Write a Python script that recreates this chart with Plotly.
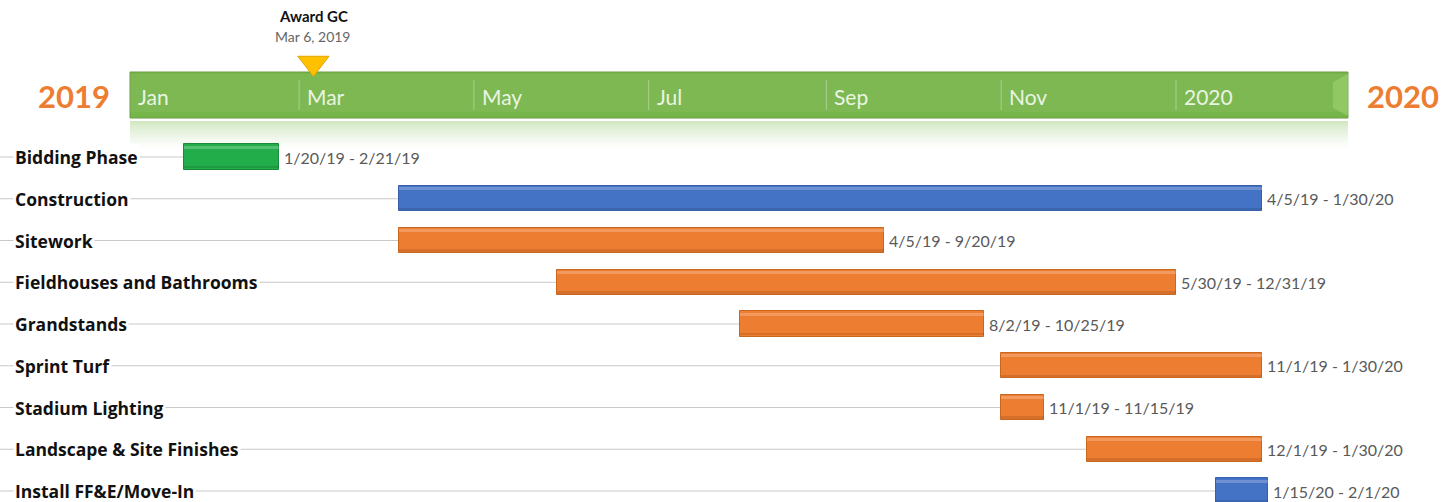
import plotly.graph_objects as go
import pandas as pd

# ---------------- data ----------------
tasks = ["Bidding Phase", "Construction", "Sitework", "Fieldhouses and Bathrooms",
         "Grandstands", "Sprint Turf", "Stadium Lighting",
         "Landscape & Site Finishes", "Install FF&E/Move-In"]
starts = ["2019-01-20", "2019-04-05", "2019-04-05", "2019-05-30", "2019-08-02",
          "2019-11-01", "2019-11-01", "2019-12-01", "2020-01-15"]
ends = ["2019-02-21", "2020-01-30", "2019-09-20", "2019-12-31", "2019-10-25",
        "2020-01-30", "2019-11-15", "2020-01-30", "2020-02-01"]
date_labels = ["1/20/19 - 2/21/19", "4/5/19 - 1/30/20", "4/5/19 - 9/20/19",
               "5/30/19 - 12/31/19", "8/2/19 - 10/25/19", "11/1/19 - 1/30/20",
               "11/1/19 - 11/15/19", "12/1/19 - 1/30/20", "1/15/20 - 2/1/20"]
task_groups = ["green", "blue", "orange", "orange", "orange", "orange", "orange", "orange", "blue"]

month_ticks = ["2019-01-01", "2019-03-01", "2019-05-01", "2019-07-01",
               "2019-09-01", "2019-11-01", "2020-01-01"]
month_labels = ["Jan", "Mar", "May", "Jul", "Sep", "Nov", "2020"]

timeline_start = "2019-01-01"
timeline_end = "2020-03-01"
start_year_label = "2019"
end_year_label = "2020"

milestone_date = "2019-03-06"
milestone_name = "Award GC"
milestone_label = "Mar 6, 2019"

# ---------------- styles / layout ----------------
W, H = 1443, 502
FONT = "Lato"
LABEL_FONT = "Open Sans"
fill = {"green": "#22ad4a", "blue": "#4472c4", "orange": "#ed7d31"}
edge = {"green": "#1a8a38", "blue": "#3760a8", "orange": "#c9661f"}

# pixel geometry of the time axis
x_left_px, x_year_px = 130, 1176
px_per_day = (x_year_px - x_left_px) / 365.0
t0 = pd.Timestamp(timeline_start)
range_start = t0 - pd.Timedelta(days=x_left_px / px_per_day)
range_end = t0 + pd.Timedelta(days=(W - x_left_px) / px_per_day)

row0_px, row_step_px = 157, 41.75
y_top = -row0_px / row_step_px
y_bottom = (H - row0_px) / row_step_px
BAR_W = 0.6


def py(px):
    """pixel row -> paper y"""
    return 1 - px / H


fig = go.Figure()

# connector lines
shapes = []
for i, s in enumerate(starts):
    shapes.append(dict(type="line", xref="x", yref="y", x0=range_start, x1=s, y0=i, y1=i,
                       line=dict(color="#c9c9c9", width=1), layer="below"))

# timeline bar
shapes.append(dict(type="rect", xref="x", yref="paper", x0=timeline_start, x1=timeline_end,
                   y0=py(118), y1=py(72), fillcolor="#76b54a",
                   line=dict(color="#6a9c42", width=1), layer="below"))
shapes.append(dict(type="rect", xref="x", yref="paper", x0=timeline_start, x1=timeline_end,
                   y0=py(112), y1=py(74), fillcolor="rgba(255,255,255,0.05)",
                   line=dict(width=0), layer="below"))
# bevel at the right end of the timeline
shapes.append(dict(type="path", xref="paper", yref="paper",
                   path=(f"M {1333 / W},{py(82)} L {1348 / W},{py(74)} "
                         f"L {1348 / W},{py(116)} L {1333 / W},{py(108)} Z"),
                   fillcolor="rgba(170,220,120,0.45)", line=dict(width=0), layer="below"))
# reflection below timeline
n_strips = 14
for k in range(n_strips):
    a = 0.32 * (1 - k / n_strips) ** 1.3
    shapes.append(dict(type="rect", xref="x", yref="paper", x0=timeline_start, x1=timeline_end,
                       y0=py(121 + 2 * (k + 1)), y1=py(121 + 2 * k),
                       fillcolor=f"rgba(118,181,74,{a:.3f})", line=dict(width=0), layer="below"))
# month separators
for t in month_ticks[1:]:
    shapes.append(dict(type="line", xref="x", yref="paper", x0=t, x1=t, y0=py(110), y1=py(80),
                       line=dict(color="rgba(255,255,255,0.35)", width=1), layer="below"))

# task bars (end dates inclusive)
durations = [(pd.Timestamp(e) + pd.Timedelta(days=1) - pd.Timestamp(s)).total_seconds() * 1000
             for s, e in zip(starts, ends)]
rows = list(range(len(tasks)))
fig.add_trace(go.Bar(
    y=rows, x=durations, base=starts, orientation="h", width=BAR_W,
    marker=dict(color=[fill[g] for g in task_groups],
                line=dict(color=[edge[g] for g in task_groups], width=1)),
    hoverinfo="skip", showlegend=False))
# bevel highlight (top) and shade (bottom)
fig.add_trace(go.Bar(
    y=rows, x=durations, base=starts, orientation="h", width=0.07, offset=-BAR_W / 2 + 0.03,
    marker=dict(color="rgba(255,255,255,0.22)", line=dict(width=0)),
    hoverinfo="skip", showlegend=False))
fig.add_trace(go.Bar(
    y=rows, x=durations, base=starts, orientation="h", width=0.06, offset=BAR_W / 2 - 0.085,
    marker=dict(color="rgba(0,0,0,0.10)", line=dict(width=0)),
    hoverinfo="skip", showlegend=False))

# milestone marker
fig.add_trace(go.Scatter(
    x=[milestone_date], y=[(63 - row0_px) / row_step_px], mode="markers",
    marker=dict(symbol="triangle-down", size=27, color="#ffc000",
                line=dict(color="#e0a400", width=1)),
    hoverinfo="skip", showlegend=False))

annotations = []
for i, (t, e, lab) in enumerate(zip(tasks, ends, date_labels)):
    annotations.append(dict(x=13 / W, xref="paper", y=i, yref="y", text=f"<b>{t}</b>",
                            showarrow=False, xanchor="left", yanchor="middle",
                            font=dict(family=LABEL_FONT, size=17.5, color="#111111"),
                            bgcolor="white", borderpad=1))
    annotations.append(dict(x=pd.Timestamp(e) + pd.Timedelta(days=1), xref="x", y=i, yref="y",
                            text=lab, showarrow=False,
                            xanchor="left", yanchor="middle", xshift=3,
                            font=dict(family=FONT, size=16, color="#595959")))

for t, lab in zip(month_ticks, month_labels):
    annotations.append(dict(x=t, xref="x", y=py(96), yref="paper", text=lab, showarrow=False,
                            xanchor="left", yanchor="middle", xshift=6,
                            font=dict(family=FONT, size=21, color="#eaf4e2")))

annotations.append(dict(x=74 / W, xref="paper", y=py(96), yref="paper",
                        text=f"<b>{start_year_label}</b>", showarrow=False,
                        xanchor="center", yanchor="middle",
                        font=dict(family=FONT, size=31, color="#ed7d31")))
annotations.append(dict(x=1403 / W, xref="paper", y=py(96), yref="paper",
                        text=f"<b>{end_year_label}</b>", showarrow=False,
                        xanchor="center", yanchor="middle",
                        font=dict(family=FONT, size=31, color="#ed7d31")))
annotations.append(dict(x=milestone_date, xref="x", y=py(16), yref="paper",
                        text=f"<b>{milestone_name}</b>", showarrow=False,
                        xanchor="center", yanchor="middle",
                        font=dict(family=FONT, size=15, color="#111111")))
annotations.append(dict(x=milestone_date, xref="x", y=py(36), yref="paper",
                        text=milestone_label, showarrow=False,
                        xanchor="center", yanchor="middle",
                        font=dict(family=FONT, size=14, color="#666666")))

fig.update_layout(
    width=W, height=H, margin=dict(l=0, r=0, t=0, b=0),
    paper_bgcolor="white", plot_bgcolor="white",
    xaxis=dict(type="date", range=[range_start, range_end], visible=False, domain=[0, 1]),
    yaxis=dict(range=[y_bottom, y_top], visible=False, domain=[0, 1]),
    shapes=shapes, annotations=annotations, hovermode=False, showlegend=False,
    barmode="overlay", bargap=0,
)

fig.write_html("out.html", config={"displayModeBar": False},
               post_script="document.body.style.margin='0';document.body.style.overflow='hidden';")
